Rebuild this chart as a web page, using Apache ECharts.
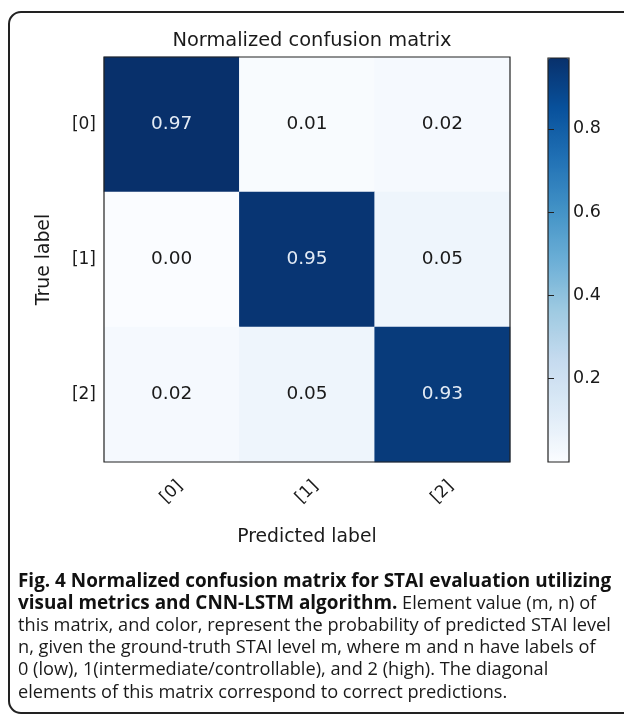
<!DOCTYPE html>
<html>
<head>
<meta charset="utf-8">
<script src="https://cdn.jsdelivr.net/npm/echarts@6/dist/echarts.min.js"></script>
<style>
  html, body { margin: 0; padding: 0; background: #fff; }
  #main { width: 624px; height: 717px; }
</style>
</head>
<body>
<div id="main"></div>
<script>
// data
var classes = ['[0]', '[1]', '[2]'];
var row0 = [0.97, 0.01, 0.02];
var row1 = [0.00, 0.95, 0.05];
var row2 = [0.02, 0.05, 0.93];
var cbTicks = [0.2, 0.4, 0.6, 0.8];
var cbMin = 0, cbMax = 0.97;
var blues = ['#fafcff', '#deebf7', '#c6dbef', '#9ecae1', '#6baed6', '#4292c6', '#2171b5', '#08519c', '#08306b'];
var captionLines = [
  '{b|Fig. 4 Normalized confusion matrix for STAI evaluation utilizing}',
  '{b|visual metrics and CNN-LSTM algorithm.} Element value (m, n) of',
  'this matrix, and color, represent the probability of predicted STAI level',
  'n, given the ground-truth STAI level m, where m and n have labels of',
  '0 (low), 1(intermediate/controllable), and 2 (high). The diagonal',
  'elements of this matrix correspond to correct predictions.'
];

var rows = [row0, row1, row2];
var cells = [];
rows.forEach(function (r, i) {
  r.forEach(function (v, j) {
    cells.push({
      value: [j, i, v],
      label: { color: v > cbMax / 2 ? '#e3ebf5' : '#1a1a1a' }
    });
  });
});

var myChart = echarts.init(document.getElementById('main'));
var font = 'DejaVu Sans';

var graphics = [{
  type: 'rect',
  shape: { x: 9, y: 12, width: 660, height: 701, r: 12 },
  style: { fill: 'none', stroke: '#222', lineWidth: 2 },
  z: 100
}];
captionLines.forEach(function (t, k) {
  graphics.push({
    type: 'text',
    left: 18,
    top: 572 + k * 22.3,
    style: {
      text: t,
      font: '18.2px "Open Sans"',
      fill: '#1a1a1a',
      rich: { b: { fontWeight: 'bold', fontSize: 18.9, fontFamily: 'Open Sans', fill: '#111' } }
    }
  });
});

var option = {
  backgroundColor: '#fff',
  animation: false,
  title: {
    text: 'Normalized confusion matrix',
    left: 'center',
    top: 26,
    textStyle: { fontFamily: font, fontSize: 19.4, fontWeight: 'normal', color: '#1a1a1a' }
  },
  grid: [
    { left: 104, top: 57, width: 406, height: 405, show: true, borderColor: '#222', borderWidth: 1.2, z: 5 },
    { left: 548, top: 58, width: 21, height: 404, show: true, borderColor: '#222', borderWidth: 1.2, z: 10 }
  ],
  xAxis: [{
    type: 'category',
    data: classes,
    gridIndex: 0,
    position: 'bottom',
    name: 'Predicted label',
    nameLocation: 'middle',
    nameGap: 66,
    nameTextStyle: { fontFamily: font, fontSize: 18.8, color: '#1a1a1a' },
    axisLine: { show: false },
    axisTick: { alignWithLabel: true, length: 6, lineStyle: { color: '#222' } },
    axisLabel: {
      rotate: 45, margin: 30, align: 'center', verticalAlign: 'middle',
      fontFamily: font, fontSize: 17, color: '#1a1a1a'
    },
    splitLine: { show: false }
  }, {
    type: 'value',
    gridIndex: 1,
    show: false
  }],
  yAxis: [{
    type: 'category',
    data: classes,
    gridIndex: 0,
    inverse: true,
    name: 'True label',
    nameLocation: 'middle',
    nameRotate: 90,
    nameGap: 50,
    nameTextStyle: { fontFamily: font, fontSize: 18.8, color: '#1a1a1a' },
    axisLine: { show: false },
    axisTick: { alignWithLabel: true, length: 6, lineStyle: { color: '#222' } },
    axisLabel: { margin: 8, fontFamily: font, fontSize: 17, color: '#1a1a1a' },
    splitLine: { show: false }
  }, {
    type: 'value',
    gridIndex: 1,
    position: 'right',
    min: cbMin,
    max: cbMax,
    axisLine: { show: false },
    axisTick: { show: true, length: 6, customValues: cbTicks, lineStyle: { color: '#222' } },
    axisLabel: {
      customValues: cbTicks,
      margin: 4,
      fontFamily: font,
      fontSize: 17.5,
      color: '#1a1a1a',
      formatter: function (v) { return v.toFixed(1); }
    },
    splitLine: { show: false },
    z: 12
  }],
  visualMap: {
    type: 'continuous',
    min: cbMin,
    max: cbMax,
    seriesIndex: 0,
    calculable: false,
    hoverLink: false,
    left: 548,
    top: 58,
    padding: 0,
    itemWidth: 21,
    itemHeight: 404,
    text: null,
    inRange: { color: blues }
  },
  graphic: graphics,
  series: [{
    type: 'heatmap',
    xAxisIndex: 0,
    yAxisIndex: 0,
    data: cells,
    label: {
      show: true,
      fontFamily: font,
      fontSize: 18.5,
      formatter: function (p) { return p.value[2].toFixed(2); }
    }
  }]
};

myChart.setOption(option);
window.addEventListener('resize', function () {
  myChart.resize();
});
</script>
</body>
</html>
